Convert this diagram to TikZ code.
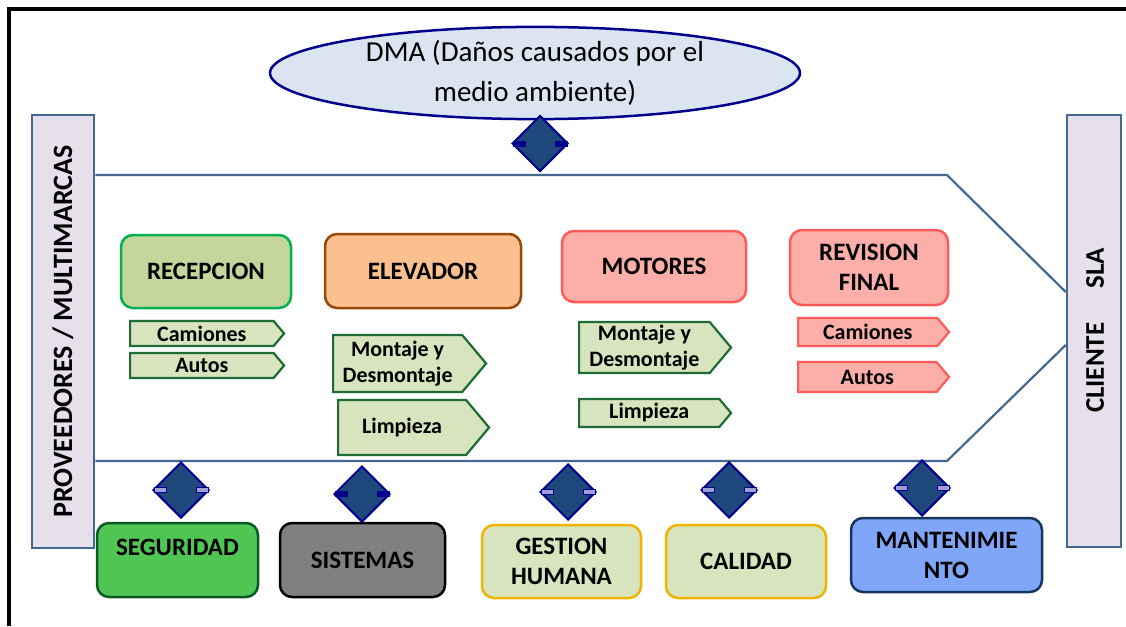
\documentclass[tikz,border=0pt]{standalone}
\usepackage{fontspec}
\setmainfont{Carlito}
\usetikzlibrary{shapes.geometric,shapes.symbols}
\definecolor{chev}{HTML}{45688E}
\definecolor{barfill}{HTML}{E6E0EC}
\definecolor{ellfill}{HTML}{DBE5F1}
\definecolor{navy}{HTML}{00008C}
\definecolor{diafill}{HTML}{1F497D}
\definecolor{notchfill}{HTML}{A0A0D8}
\definecolor{recfill}{HTML}{C3D69B}
\definecolor{recdraw}{HTML}{00B050}
\definecolor{elefill}{HTML}{FAC090}
\definecolor{eledraw}{HTML}{984807}
\definecolor{pinkfill}{HTML}{FCAFA9}
\definecolor{pinkdraw}{HTML}{FF5B5B}
\definecolor{subfill}{HTML}{D7E4BD}
\definecolor{subdraw}{HTML}{1D6B35}
\definecolor{segfill}{HTML}{4FC553}
\definecolor{segdraw}{HTML}{0B5A25}
\definecolor{sisfill}{HTML}{808080}
\definecolor{gesdraw}{HTML}{F0B400}
\definecolor{manfill}{HTML}{7FA6F9}
\definecolor{mandraw}{HTML}{17365D}
\tikzset{
  procbox/.style={draw, rounded corners=12pt, line width=2.5pt, align=center, inner sep=0pt,
    font=\bfseries\fontsize{25}{30}\selectfont},
  subarrow/.style={shape=signal, signal to=east, signal pointer angle=100, draw, line width=2.2pt,
    inner sep=0pt, align=center, anchor=west, font=\bfseries\fontsize{22}{26}\selectfont},
  subg/.style={subarrow, fill=subfill, draw=subdraw},
  subp/.style={subarrow, fill=pinkfill, draw=pinkdraw},
  dia/.style={shape=diamond, aspect=1, minimum width=56pt, minimum height=56pt, inner sep=0pt,
    fill=diafill, draw=navy, line width=2pt},
  notch/.style={fill=notchfill, draw=navy, line width=0.8pt},
  sidebar/.style={draw=chev, fill=barfill, line width=2.5pt, inner sep=0pt},
  chevline/.style={draw=chev, line width=2.2pt}
}
\begin{document}
\begin{tikzpicture}[x=1pt,y=-1pt]
\useasboundingbox (0,0) rectangle (1126,626);
% frame
\draw[line width=4pt] (9,626) -- (9,9) -- (1126,9);
% side bars
\node[sidebar, minimum width=62pt, minimum height=433pt] (lbar) at (63,331.5) {};
\node[sidebar, minimum width=54pt, minimum height=432pt] (rbar) at (1094,331) {};
\node[rotate=90, font=\bfseries\fontsize{28}{30}\selectfont] (ltext) at (lbar.center) {PROVEEDORES / MULTIMARCAS};
\node[rotate=90, font=\bfseries\fontsize{27}{30}\selectfont] (rtext) at (1095,330.5) {CLIENTE\hspace{34pt}SLA};
% chevron
\coordinate (t1) at (lbar.east |- 0,175);
\coordinate (t2) at (947,175);
\coordinate (t3) at (rbar.west |- 0,292);
\coordinate (b1) at (lbar.east |- 0,461);
\coordinate (b2) at (947,461);
\coordinate (b3) at (rbar.west |- 0,345);
\draw[chevline] (t1) -- (t2) -- (t3);
\draw[chevline] (b1) -- (b2) -- (b3);
% DMA ellipse
\node[ellipse, draw=navy, fill=ellfill, line width=2.5pt, minimum width=530pt, minimum height=84pt,
  inner sep=0pt, align=center, font=\fontsize{29}{40}\selectfont] (dma) at (535,73)
  {DMA (Daños causados por el\\medio ambiente)};
% diamonds
\node[dia] (d0) at (540,143.5) {};
\node[dia] (d1) at (181,490) {};
\node[dia] (d2) at (362,494) {};
\node[dia] (d3) at (568,492) {};
\node[dia] (d4) at (729,490) {};
\node[dia] (d5) at (922,488) {};
\foreach \d/\f in {d0/navy,d1/notchfill,d2/navy,d3/notchfill,d4/notchfill,d5/notchfill}{
  \draw[notch, fill=\f] ([xshift=2pt,yshift=2.5pt]\d.west) rectangle ([xshift=14pt,yshift=-2.5pt]\d.west);
  \draw[notch, fill=\f] ([xshift=-2pt,yshift=2.5pt]\d.east) rectangle ([xshift=-14pt,yshift=-2.5pt]\d.east);
}
% process boxes
\node[procbox, fill=recfill, draw=recdraw, minimum width=170pt, minimum height=73pt] (rec) at (206,271.5) {RECEPCION};
\node[procbox, fill=elefill, draw=eledraw, minimum width=196pt, minimum height=74pt] (ele) at (423,271) {ELEVADOR};
\node[procbox, fill=pinkfill, draw=pinkdraw, minimum width=184pt, minimum height=71pt] (mot) at (654,266.5) {MOTORES};
\node[procbox, fill=pinkfill, draw=pinkdraw, minimum width=158pt, minimum height=75pt] (rev) at (869,267.5) {REVISION\\FINAL};
% sub arrows
\node[subg, minimum width=154pt, minimum height=25pt] (cam1) at (129,333.5) {Camiones};
\node[subg, minimum width=154pt, minimum height=25pt] (aut1) at (129,365.5) {Autos};
\node[subg, minimum width=153pt, minimum height=57pt] (mon1) at (332,363.5) {Montaje y\\Desmontaje};
\node[subg, minimum width=151pt, minimum height=55pt] (lim1) at (337,427.5) {Limpieza};
\node[subg, minimum width=152pt, minimum height=51pt] (mon2) at (578,347.5) {Montaje y\\Desmontaje};
\node[subg, minimum width=152pt, minimum height=28pt] (lim2) at (578,413) {Limpieza};
\node[subp, minimum width=151pt, minimum height=28pt] (cam2) at (797,332) {Camiones};
\node[subp, minimum width=151pt, minimum height=30pt] (aut2) at (797,377) {Autos};
% bottom boxes
\node[procbox, fill=segfill, draw=segdraw, minimum width=161pt, minimum height=74pt] (seg) at (177.5,560) {\raisebox{26pt}{SEGURIDAD}};
\node[procbox, fill=sisfill, draw=black, minimum width=165pt, minimum height=74pt] (sis) at (362.5,560) {SISTEMAS};
\node[procbox, fill=subfill, draw=gesdraw, minimum width=159pt, minimum height=73pt] (ges) at (561.5,561.5) {GESTION\\HUMANA};
\node[procbox, fill=subfill, draw=gesdraw, minimum width=160pt, minimum height=73pt] (cal) at (746,561.5) {CALIDAD};
\node[procbox, fill=manfill, draw=mandraw, minimum width=191pt, minimum height=74pt] (man) at (946.5,555) {MANTENIMIE\\NTO};
\end{tikzpicture}
\end{document}
